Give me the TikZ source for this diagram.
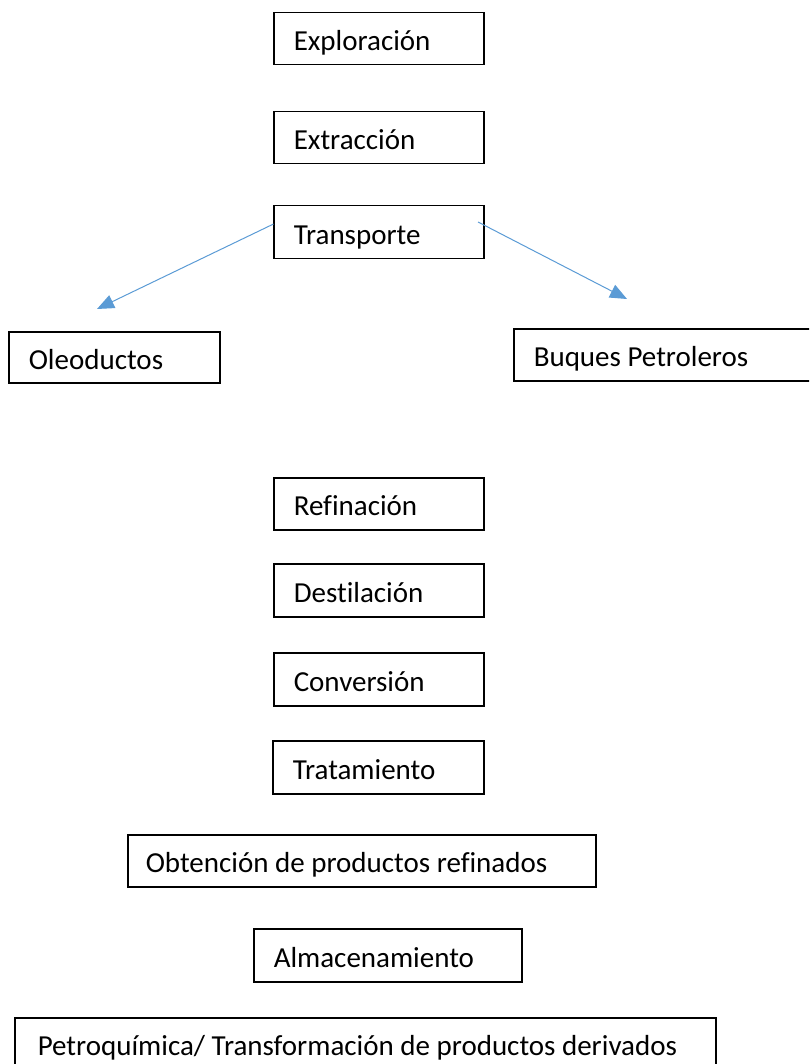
\documentclass[tikz,border=0pt]{standalone}
\usepackage{fontspec}
\setmainfont[Ligatures=NoCommon]{Carlito}
\usepackage{tikz}
\usetikzlibrary{arrows.meta}
\definecolor{azulflecha}{RGB}{91,155,213}
\newcommand{\textocaja}[2]{\makebox[#1][l]{#2}}

\begin{document}
\begin{tikzpicture}[line cap=rect,line join=miter,x=1pt,y=-1pt,
  caja/.style={draw,line width=1.5pt,anchor=north west,inner xsep=20pt,inner ysep=0pt,
    minimum height=52pt,text height=31pt,text depth=7pt,
    font=\fontsize{29}{35}\selectfont},
  flecha/.style={color=azulflecha,line width=1pt,-{Triangle[length=17pt,width=14pt]}}]
\useasboundingbox (0,0) rectangle (809,1064);
\clip (0,0) rectangle (809,1064);
\node [caja] (expl) at (273,12) {\textocaja{170pt}{Exploración}};
\node [caja] (extr) at (273,111) {\textocaja{170pt}{Extracción}};
\node [caja,minimum height=53pt] (transp) at (273,205) {\textocaja{170pt}{Transporte}};
\node [caja,minimum height=51pt] (oleo) at (8,331) {\textocaja{171pt}{Oleoductos}};
\node [caja] (buques) at (513,328) {\textocaja{280pt}{Buques Petroleros}};
\coordinate (puntaizq) at (97,309);
\coordinate (puntader) at (627,299);
\draw [flecha] ([yshift=8pt]transp.west) -- (puntaizq);
\draw [flecha] ([xshift=-6pt,yshift=10pt]transp.east) -- (puntader);
\node [caja] (refin) at (273,477) {\textocaja{170pt}{Refinación}};
\node [caja,minimum height=53pt] (destil) at (273,563) {\textocaja{170pt}{Destilación}};
\node [caja,minimum height=53pt] (conv) at (273,652) {\textocaja{170pt}{Conversión}};
\node [caja,minimum height=53pt] (trat) at (272,740) {\textocaja{171pt}{Tratamiento}};
\node [caja,inner xsep=18pt] (obten) at (127,834) {\textocaja{432pt}{Obtención de productos refinados}};
\node [caja,minimum height=53pt] (almac) at (253,928) {\textocaja{228pt}{Almacenamiento}};
%% la ultima caja queda cortada por el borde inferior
\node [caja,inner xsep=23pt] (petro) at (14,1017) {\textocaja{655pt}{Petroquímica/ Transformación de productos derivados}};
\end{tikzpicture}
\end{document}
